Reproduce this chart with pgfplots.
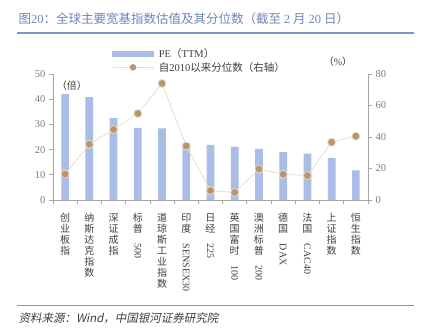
\documentclass[border=0pt]{standalone}
\usepackage{fontspec}
\usepackage{graphicx}
\usepackage{pgfplots}
\pgfplotsset{compat=1.18}
\setmainfont{Liberation Serif}
\newfontfamily\cjk{Noto Sans CJK SC}
\newfontfamily\cjkit[FakeSlant=0.2]{Noto Sans CJK SC}
\definecolor{barcol}{HTML}{A9BDE6}
\definecolor{dotcol}{HTML}{B9956A}
\definecolor{linecol}{HTML}{EBDDCB}
\definecolor{titlecol}{HTML}{6F86B9}
\definecolor{rulecol}{HTML}{7F93C8}
\definecolor{axcol}{HTML}{A6A6A6}
\definecolor{tickcol}{HTML}{7F7F7F}
\definecolor{labcol}{HTML}{404040}
\newcommand{\R}[1]{\rotatebox{-90}{\rmfamily #1}}
\begin{document}
\begin{tikzpicture}[x=1pt,y=1pt]
\path[use as bounding box, fill=white] (0,0) rectangle (424,333);
% title
\node[anchor=west, text=titlecol, font=\fontsize{12.5}{14}\selectfont] at (15,314.5) {\cjk 图\rmfamily 20\cjk：全球主要宽基指数估值及其分位数（截至 \rmfamily 2 \cjk 月 \rmfamily 20 \cjk 日）};
\draw[rulecol, line width=1.3pt] (17,300) -- (414,300);
\draw[rulecol, line width=0.8pt] (17,28) -- (414,28);
\node[anchor=west, text=labcol, font=\fontsize{11.5}{13}\selectfont] at (15,15) {\cjkit 资料来源：\itshape Wind\cjkit ，中国银河证券研究院};
\begin{axis}[
  at={(53pt,133pt)}, anchor=south west,
  scale only axis, width=315pt, height=126pt,
  xmin=-0.5, xmax=12.5, ymin=0, ymax=50,
  axis y line*=left, axis x line*=bottom,
  axis line style={axcol, line width=0.8pt},
  ytick={0,10,...,50},
  yticklabel style={text=tickcol, font=\rmfamily\fontsize{10.5}{12}\selectfont},
  /pgf/number format/assume math mode=true,
  tick style={axcol, line width=0.8pt},
  major tick length=4pt,
  tick align=outside,
  xtick={0,...,12},
  x tick style={draw=none},
  xticklabel style={anchor=north, align=center, text=labcol, font=\fontsize{10}{11}\selectfont\cjk, yshift=-6pt},
  xticklabels={
    {创\\业\\板\\指},
    {纳\\斯\\达\\克\\指\\数},
    {深\\证\\成\\指},
    {标\\普\\\R{500}},
    {道\\琼\\斯\\工\\业\\指\\数},
    {印\\度\\\R{SENSEX30}},
    {日\\经\\\R{225}},
    {英\\国\\富\\时\\\R{100}},
    {澳\\洲\\标\\普\\\R{200}},
    {德\\国\\\R{DAX}},
    {法\\国\\\R{CAC40}},
    {上\\证\\指\\数},
    {恒\\生\\指\\数}},
  extra x ticks={-0.5,0.5,...,12.5},
  extra x tick labels={},
  extra x tick style={x tick style={draw=axcol, line width=0.8pt}, major tick length=4pt},
  clip=false,
]
\addplot[ybar, bar width=7.7pt, fill=barcol, draw=none] coordinates {
(0,42.0) (1,40.8) (2,32.5) (3,28.6) (4,28.4) (5,22.6) (6,21.9) (7,21.1) (8,20.3) (9,19.0) (10,18.4) (11,16.7) (12,11.8)};
\node[anchor=center, text=labcol, font=\fontsize{10}{12}\selectfont\cjk] at (rel axis cs:0.06,0.91) {（倍）};
\end{axis}
\begin{axis}[
  at={(53pt,133pt)}, anchor=south west,
  scale only axis, width=315pt, height=126pt,
  xmin=-0.5, xmax=12.5, ymin=0, ymax=80,
  axis y line*=right, axis x line=none,
  axis line style={axcol, line width=0.8pt},
  ytick={0,20,...,80},
  yticklabel style={text=tickcol, font=\rmfamily\fontsize{10.5}{12}\selectfont},
  /pgf/number format/assume math mode=true,
  tick style={axcol, line width=0.8pt},
  major tick length=4pt,
  tick align=outside,
  clip=false,
  legend style={at={(rel axis cs:0.187,1.215)}, anchor=north west, draw=none, fill=none,
    font=\fontsize{10.5}{12}\selectfont, text=labcol, row sep=0pt, inner sep=0pt,
    nodes={inner sep=1.5pt}, /tikz/every odd column/.append style={column sep=3.5pt}},
  legend cell align=left,
]
\addlegendimage{legend image code/.code={\fill[barcol] (0pt,-2.6pt) rectangle (41pt,2.6pt);}}
\addlegendentry{PE\cjk（\rmfamily TTM\cjk）}
\addlegendimage{legend image code/.code={\draw[linecol, line width=0.8pt] (0pt,0pt) -- (41pt,0pt); \fill[dotcol] (20.5pt,0pt) circle (3pt);}}
\addlegendentry{\cjk 自\rmfamily 2010\cjk 以来分位数（右轴）}
\addplot[linecol, line width=0.8pt, mark=*, mark size=4pt, mark options={fill=dotcol, draw=none}] coordinates {
(0,16.4) (1,35.4) (2,44.8) (3,54.9) (4,74.0) (5,34.3) (6,6.0) (7,4.8) (8,19.7) (9,16.3) (10,15.5) (11,36.7) (12,40.5)};
\node[anchor=center, text=labcol, font=\fontsize{10}{12}\selectfont] at (rel axis cs:0.905,1.1) {\cjk（\rmfamily\%\cjk）};
\end{axis}
\end{tikzpicture}
\end{document}
